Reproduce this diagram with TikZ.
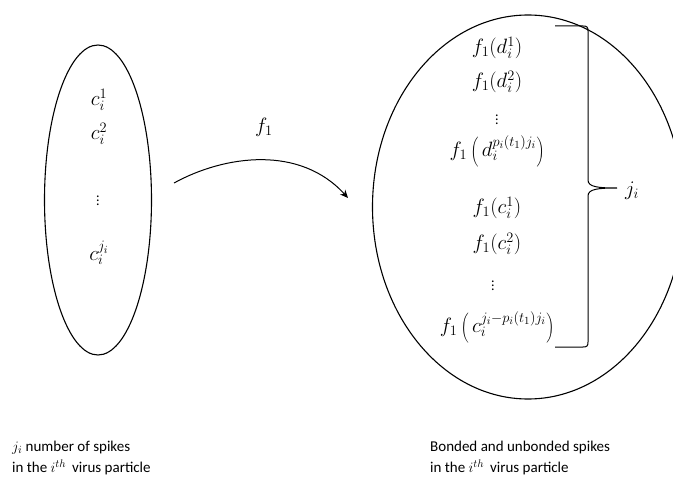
\documentclass[tikz,border=0pt]{standalone}
\usepackage{fontspec}
\setmainfont{Carlito}
\usetikzlibrary{shapes.geometric,arrows.meta}
\tikzset{
  blob/.style={draw, ellipse, line width=1.1pt, inner sep=0pt},
  mth/.style={font=\fontsize{21}{24}\selectfont, inner sep=0pt},
  dots/.style={font=\fontsize{14}{16}\selectfont, inner sep=0pt},
  captext/.style={font=\fontsize{15}{21}\selectfont, anchor=west, inner sep=0pt, align=left},
  conn/.style={line width=1pt}
}
\begin{document}
\begin{tikzpicture}[x=1pt,y=-1pt]
\useasboundingbox (0,0) rectangle (673,487);
\clip (0,0) rectangle (673,487);
% left ellipse
\node[blob, minimum width=107pt, minimum height=310pt] (L) at (98,200) {};
\node[mth] (c1) at (99,100) {$c_i^1$};
\node[mth] (c2) at (99,134) {$c_i^2$};
\node[dots] (cd) at (98,198) {$\vdots$};
\node[mth] (cj) at (99,253) {$c_i^{j_i}$};
% right ellipse
\node[blob, minimum width=311pt, minimum height=384pt] (R) at (528,207) {};
\node[mth] (r1) at (497,48) {$f_1(d_i^1)$};
\node[mth] (r2) at (497,82) {$f_1(d_i^2)$};
\node[dots] (r3) at (497,117) {$\vdots$};
\node[mth] (r4) at (497,151) {$f_1\left(\,d_i^{p_i(t_1)j_i}\right)$};
\node[mth] (r5) at (497,208) {$f_1(c_i^1)$};
\node[mth] (r6) at (497,244) {$f_1(c_i^2)$};
\node[dots] (r7) at (493,283) {$\vdots$};
\node[mth] (r8) at (497,327) {$f_1\left(\,c_i^{j_i-p_i(t_1)j_i}\right)$};
% bracket
\coordinate (bt) at (555,26);
\coordinate (bb) at (555,347);
\coordinate (tip) at (617,188);
\draw[conn] (bt) -- (583,26) .. controls (587,26) and (588,27) .. (588,31) -- (588,180)
  .. controls (588,187) and (598,188) .. (tip)
  .. controls (598,188) and (588,189) .. (588,196) -- (588,342)
  .. controls (588,346) and (587,347) .. (583,347) -- (bb);
\node[mth, anchor=west] (ji) at (625,191) {$j_i$};
% arrow
\coordinate (as) at (174,183);
\coordinate (ae) at (348,198);
\draw[conn, -{Stealth[length=8pt,width=7pt]}] (as) .. controls (225,155) and (300,145) .. (ae);
\node[mth] (f1) at (264,127) {$f_1$};
% captions
\node[captext] (capL) at (12,458) {$j_i$ number of spikes\\in the $i^{th}$\, virus particle};
\node[captext] (capR) at (430,458) {Bonded and unbonded spikes\\in the $i^{th}$\, virus particle};
\end{tikzpicture}
\end{document}
